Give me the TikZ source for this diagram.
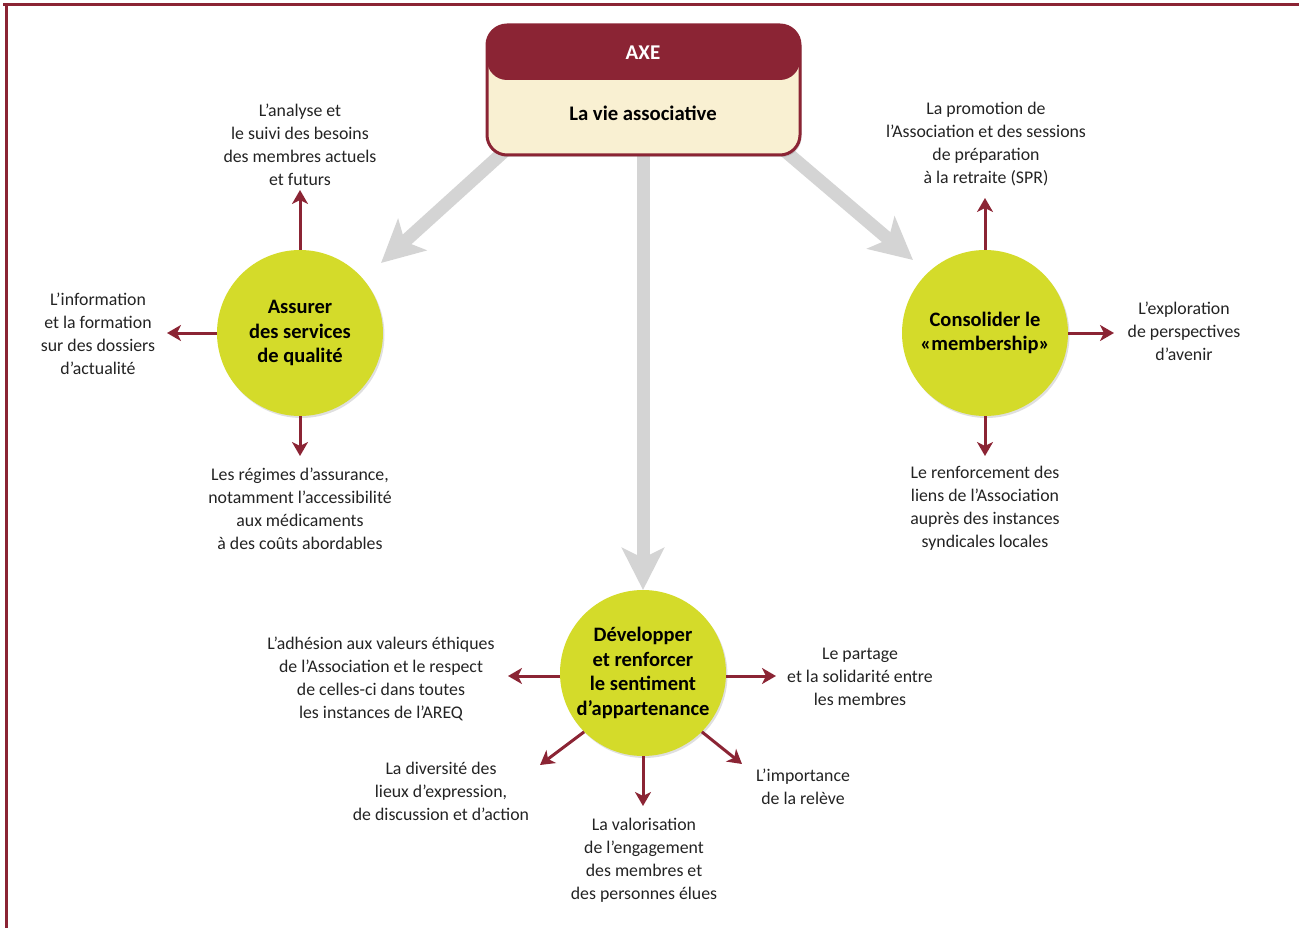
\documentclass[tikz,border=0pt]{standalone}
\usepackage{fontspec}
\setmainfont{Carlito}
\usetikzlibrary{arrows.meta,shadows}
\definecolor{axered}{RGB}{139,36,52}
\definecolor{cream}{RGB}{249,240,210}
\definecolor{lime}{RGB}{212,219,42}
\definecolor{arrgray}{RGB}{212,212,212}
\definecolor{txt}{RGB}{35,35,35}
\begin{document}
\begin{tikzpicture}[x=1pt,y=-1pt,
  lbl/.style={font=\fontsize{17.8}{23}\selectfont, text=txt, align=center, inner sep=0pt},
  circ/.style={circle, fill=lime, minimum size=166pt, inner sep=0pt, align=center,
     font=\fontsize{20.5}{24.6}\selectfont\bfseries, text=black,
     drop shadow={opacity=0.25, shadow xshift=1.5pt, shadow yshift=-2pt}},
  redarr/.style={draw=axered, line width=3pt, -{Stealth[length=14pt,width=16pt,inset=4pt]}},
  grayarr/.style={draw=arrgray, line width=13pt, -{Stealth[length=42pt,width=42pt,inset=10pt]}},
  axebox/.style={draw=axered, line width=3pt, fill=cream, rounded corners=20pt,
     minimum width=313pt, minimum height=130pt, inner sep=0pt,
     drop shadow={opacity=0.3, shadow xshift=1.5pt, shadow yshift=-2pt},
     path picture={\fill[axered] (path picture bounding box.north west) rectangle ([yshift=-55pt]path picture bounding box.north east);}}
]
\useasboundingbox (0,0) rectangle (1299,928);
% frame
\fill[axered] (3,3) rectangle (1299,6);
\fill[axered] (5,3) rectangle (8,928);

% nodes
\node[circ] (c1) at (300,333) {Assurer\\des services\\de qualité};
\node[circ] (c2) at (985,333) {Consolider le\\«membership»};
\node[circ] (c3) at (643,673) {Développer\\et renforcer\\le sentiment\\d’appartenance};

% gray arrows
\coordinate (g1s) at (530,128);
\coordinate (g2s) at (643,120);
\coordinate (g3s) at (758,128);
\coordinate (g1e) at (381,263);
\coordinate (g2e) at (643,590);
\coordinate (g3e) at (913,260);
\draw[grayarr] (g1s) -- (g1e);
\draw[grayarr] (g2s) -- (g2e);
\draw[grayarr] (g3s) -- (g3e);

% top box
\node[axebox] (axe) at (643.5,90) {};
\node[font=\fontsize{21}{22}\selectfont\bfseries, text=white, inner sep=0pt] (axet) at (643,53) {AXE};
\node[font=\fontsize{20.7}{22}\selectfont\bfseries, text=black, inner sep=0pt] (vie) at (643,113) {La vie associative};

% labels
\node[lbl] (l1) at (300,144.5) {L’analyse et\\le suivi des besoins\\des membres actuels\\et futurs};
\node[lbl] (l2) at (98,333.5) {L’information\\et la formation\\sur des dossiers\\d’actualité};
\node[lbl] (l3) at (300,508.5) {Les régimes d’assurance,\\notamment l’accessibilité\\aux médicaments\\à des coûts abordables};
\node[lbl] (r1) at (986,144.5) {La promotion de\\l’Association et des sessions\\de préparation\\à la retraite (SPR)};
\node[lbl] (r2) at (1184,331) {L’exploration\\de perspectives\\d’avenir};
\node[lbl] (r3) at (985,508.5) {Le renforcement des\\liens de l’Association\\auprès des instances\\syndicales locales};
\node[lbl] (b1) at (381,679) {L’adhésion aux valeurs éthiques\\de l’Association et le respect\\de celles-ci dans toutes\\les instances de l’AREQ};
\node[lbl] (b2) at (860,677) {Le partage\\et la solidarité entre\\les membres};
\node[lbl] (b3) at (441,791) {La diversité des\\lieux d’expression,\\de discussion et d’action};
\node[lbl] (b4) at (644,860.5) {La valorisation\\de l’engagement\\des membres et\\des personnes élues};
\node[lbl] (b5) at (803,786.5) {L’importance\\de la relève};

% red arrow ends
\coordinate (e11) at (300,190);
\coordinate (e12) at (167,333);
\coordinate (e13) at (300,456);
\coordinate (e21) at (985,198);
\coordinate (e22) at (1114,333);
\coordinate (e23) at (985,456);
\coordinate (e31) at (508,676);
\coordinate (e32) at (776,676);
\coordinate (e33) at (540,765);
\coordinate (e34) at (643,806);
\coordinate (e35) at (742,764);

\draw[redarr] (c1.north) -- (e11);
\draw[redarr] (c1.west) -- (e12);
\draw[redarr] (c1.south) -- (e13);
\draw[redarr] (c2.north) -- (e21);
\draw[redarr] (c2.east) -- (e22);
\draw[redarr] (c2.south) -- (e23);
\draw[redarr] (c3.west |- e31) -- (e31);
\draw[redarr] (c3.east |- e32) -- (e32);
\draw[redarr] (c3.south west) -- (e33);
\draw[redarr] (c3.south) -- (e34);
\draw[redarr] (c3.south east) -- (e35);
\end{tikzpicture}
\end{document}
